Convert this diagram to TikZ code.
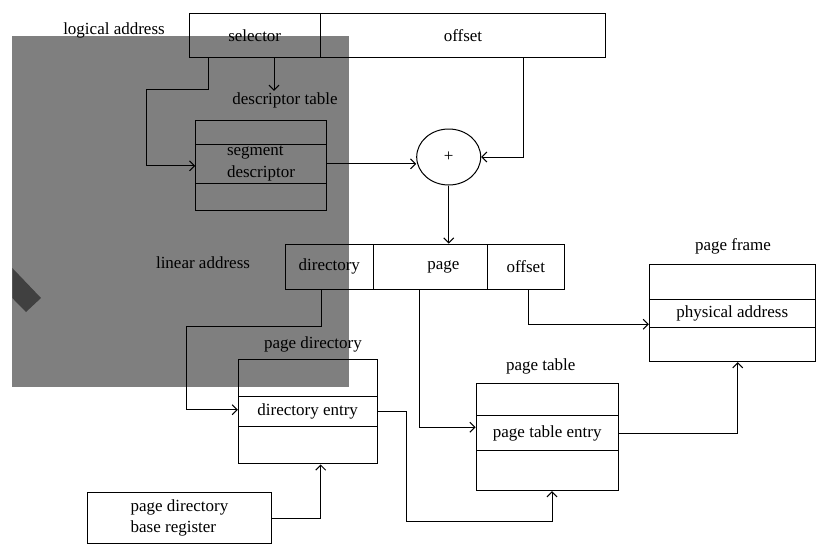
\documentclass[tikz,border=0pt]{standalone}
\usepackage{fontspec}
\setmainfont{Liberation Serif}
\usetikzlibrary{arrows.meta,shapes.geometric}
\tikzset{
  field/.style={draw, inner sep=0pt, minimum height=44},
  slot/.style={draw, inner sep=0pt},
  caption/.style={inner sep=1pt},
}
\begin{document}
\begin{tikzpicture}[x=1pt, y=-1pt, >={Straight Barb[length=5pt,width=10pt]}, line width=1pt, font=\fontsize{17}{21.6}\selectfont]
  \useasboundingbox (0,0) rectangle (824,552);
  % Logical address
  \node[caption] (lalab) at (114,30) {logical address};
  \node[field, minimum width=131.3] (sel)  at (254.7,35.3) {selector};
  \node[field, minimum width=285.4] (loff) at (463,35.3) {offset};
  % Descriptor table
  \node[caption] (dtlab) at (285,100) {descriptor table};
  \node[slot, minimum width=130.6, minimum height=23.6] (sdtop) at (261,132.5) {};
  \node[slot, minimum width=130.6, minimum height=39, align=left] (sdent) at (261,163.8) {segment\\descriptor};
  \node[slot, minimum width=130.6, minimum height=26.7] (sdbot) at (261,196.7) {};
  % Adder
  \node[draw, ellipse, minimum width=64, minimum height=56, inner sep=0pt] (plus) at (448.7,157) {+};
  % Linear address
  \node[caption] (lnlab) at (203,263) {linear address};
  \node[field, minimum width=88, minimum height=45.3]  (ldir)  at (329.3,266.7) {directory};
  \node[field, minimum width=114, minimum height=45.3] (lpage) at (430.3,266.7) {\hspace*{26pt}page};
  \node[field, minimum width=77, minimum height=45.3]  (lofs)  at (525.8,266.7) {offset};
  % Page directory
  \node[caption] (pdlab) at (313,344) {page directory};
  \node[slot, minimum width=138.7, minimum height=36.7] (pdtop) at (307.7,378.3) {};
  \node[slot, minimum width=138.7, minimum height=30]   (pdent) at (307.7,411.7) {directory entry};
  \node[slot, minimum width=138.7, minimum height=37.3] (pdbot) at (307.7,445.3) {};
  \node[draw, inner sep=0pt, minimum width=184.4, minimum height=50.6, align=left] (pdbr) at (179.5,518) {page directory\\base register};
  % Page table
  \node[caption] (ptlab) at (540.8,366) {page table};
  \node[slot, minimum width=142.3, minimum height=32.4] (pttop) at (547.2,399.5) {};
  \node[slot, minimum width=142.3, minimum height=35]   (ptent) at (547.2,433.2) {page table entry};
  \node[slot, minimum width=142.3, minimum height=40]   (ptbot) at (547.2,470.7) {};
  % Page frame
  \node[caption] (pflab) at (733,246) {page frame};
  \node[slot, minimum width=165.7, minimum height=34.7] (pftop) at (732.2,281.7) {};
  \node[slot, minimum width=165.7, minimum height=28.3] (pfent) at (732.2,313.2) {physical address};
  \node[slot, minimum width=165.7, minimum height=34.4] (pfbot) at (732.2,344.5) {};
  % Segmentation arrows
  \draw[->] ([xshift=-46.7]sel.south) |- (146.7,89) |- ([yshift=-2]sdent.west);
  \draw[->] ([xshift=19.3]sel.south) -- ([xshift=-11]dtlab.north);
  \draw[->] (sdent.east) -- (sdent.east -| plus.west);
  \draw[->] ([xshift=60.7]loff.south) |- (plus.east);
  \draw[->] (plus.south) -- (plus.south |- lpage.north);
  % Paging arrows
  \draw[->] ([xshift=-7.6]ldir.south) |- (186,326) |- ([yshift=2]pdent.west);
  \draw[->] (pdent.east) -| (406.7,521.7) -| ([xshift=4.8]ptbot.south);
  \draw[->] (pdbr.east) -| ([xshift=13]pdbot.south);
  \draw[->] ([xshift=-11]lpage.south) |- ([yshift=6]ptent.west);
  \draw[->] ([xshift=2.5]lofs.south) |- ([yshift=-11]pfent.west);
  \draw[->] (ptent.east) -| ([xshift=5.5]pfbot.south);
  % Grey overlay
  \fill[black, opacity=0.5] (12.3,36) rectangle (348.7,387);
  \fill[black!75] (12.3,268) -- (41,298) -- (26,312) -- (12.3,298) -- cycle;
\end{tikzpicture}
\end{document}
